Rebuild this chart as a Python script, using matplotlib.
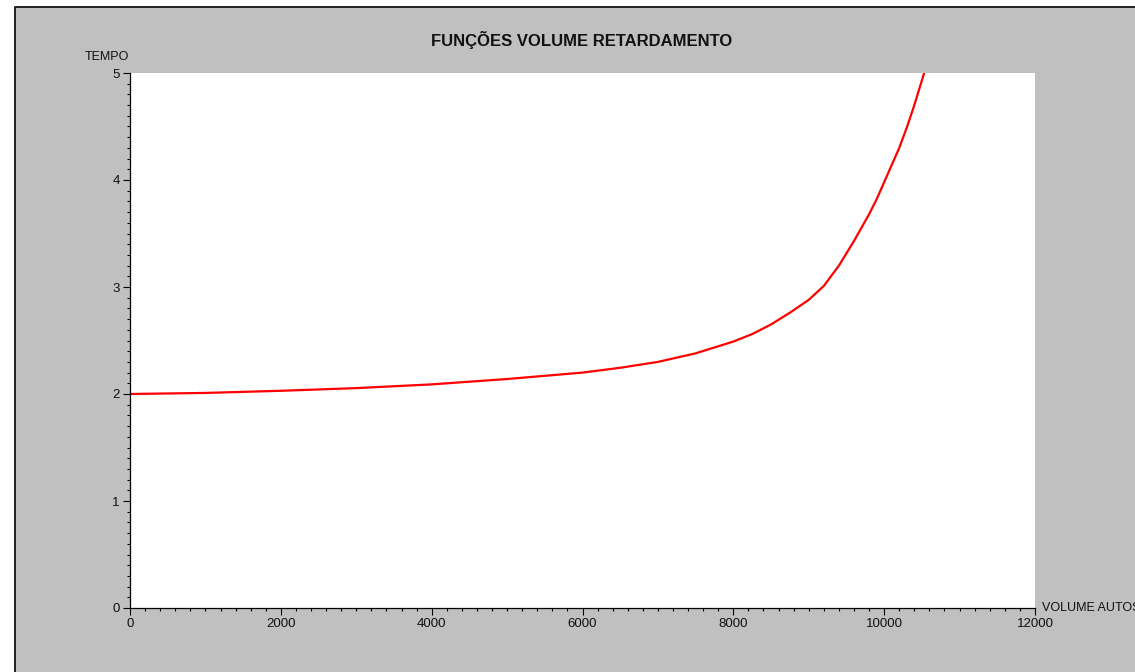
import matplotlib
matplotlib.use('Agg')
import matplotlib.pyplot as plt
from matplotlib.patches import Rectangle
from matplotlib.lines import Line2D
from matplotlib.ticker import MultipleLocator

# values
volume = [0, 1000, 2000, 3000, 4000, 5000, 6000, 6500, 7000, 7500, 8000,
          8250, 8500, 8750, 9000, 9200, 9400, 9600, 9800, 9900, 10000,
          10100, 10200, 10300, 10400, 10530]
tempo = [2.00, 2.01, 2.03, 2.055, 2.09, 2.14, 2.20, 2.245, 2.30, 2.38, 2.49,
         2.56, 2.65, 2.76, 2.88, 3.01, 3.20, 3.43, 3.68, 3.82, 3.98,
         4.14, 4.30, 4.49, 4.70, 5.00]

title = 'FUNÇÕES VOLUME RETARDAMENTO'
xlabel = 'VOLUME AUTOS'
ylabel = 'TEMPO'

W, H = 1135, 672
fig = plt.figure(figsize=(W / 100, H / 100), dpi=100, facecolor='white')

# gray window background, dark border only on left and top
x0, y0 = 14.5 / W, 1 - 6.5 / H
fig.patches.append(Rectangle((x0, 0), 1, y0, transform=fig.transFigure,
                             facecolor='#c0c0c0', edgecolor='none', zorder=-5))
fig.lines.append(Line2D([x0, x0, 1], [0, y0, y0], transform=fig.transFigure,
                        color='#202020', linewidth=1.4, zorder=-4))

ax = fig.add_axes([130 / W, 1 - 608 / H, 905 / W, 535 / H])
ax.set_zorder(2)
ax.set_facecolor('white')
ax.plot(volume, tempo, color='#ff0000', linewidth=1.6)

ax.set_xlim(0, 12000)
ax.set_ylim(0, 5)
ax.xaxis.set_major_locator(MultipleLocator(2000))
ax.xaxis.set_minor_locator(MultipleLocator(200))
ax.yaxis.set_major_locator(MultipleLocator(1))
ax.yaxis.set_minor_locator(MultipleLocator(0.1))

for s in ['top', 'right']:
    ax.spines[s].set_visible(False)
for s in ['left', 'bottom']:
    ax.spines[s].set_color('black')
    ax.spines[s].set_linewidth(0.9)

ax.tick_params(which='major', length=5, width=0.8, color='black', pad=2.5,
               labelsize=9.5, labelcolor='#111111')
ax.tick_params(which='minor', length=2.5, width=0.8, color='black')
for lab in ax.get_xticklabels() + ax.get_yticklabels():
    lab.set_fontfamily('Liberation Sans')

fig.text(582 / W, 1 - 40 / H, title, ha='center', va='center', fontsize=12,
         fontweight='bold', family='Liberation Sans', color='#111111')
fig.text(107 / W, 1 - 57 / H, ylabel, ha='center', va='center', fontsize=9,
         family='Liberation Sans', color='#111111')
fig.text(1042 / W, 1 - 608 / H, xlabel, ha='left', va='center', fontsize=9,
         family='Liberation Sans', color='#111111')

fig.savefig('out.png', dpi=100, facecolor=fig.get_facecolor())
